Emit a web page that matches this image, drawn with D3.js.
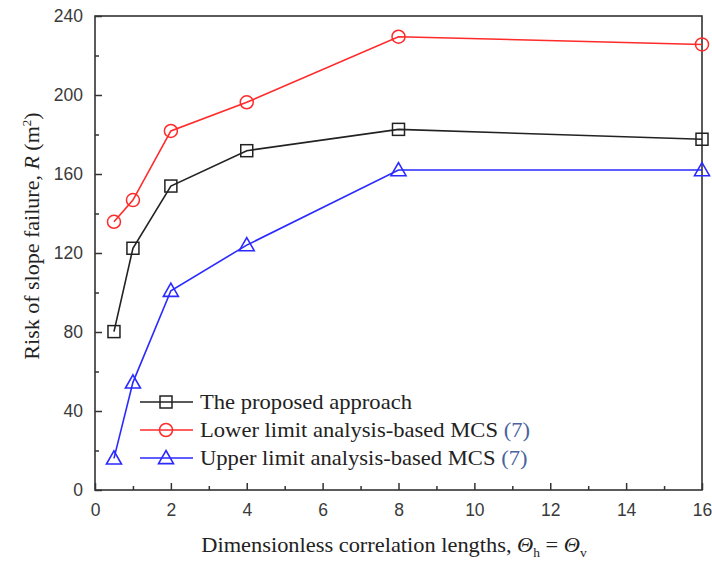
<!DOCTYPE html>
<html><head><meta charset="utf-8">
<script src="https://cdn.jsdelivr.net/npm/d3@7"></script>
<style>body{margin:0;background:#fff}</style>
</head><body>
<svg id="c" width="712" height="563"></svg>
<script>
const xValues = [0.5, 1, 2, 4, 8, 16];
const proposed = [80.2, 122.4, 153.9, 171.8, 182.6, 177.6];
const lowerMCS = [135.8, 146.8, 181.8, 196.3, 229.5, 225.6];
const upperMCS = [16.0, 54.5, 100.9, 124.0, 162.0, 162.0];
const xTicks = [0, 2, 4, 6, 8, 10, 12, 14, 16];
const yTicks = [0, 40, 80, 120, 160, 200, 240];
const seriesNames = ["The proposed approach", "Lower limit analysis-based MCS", "Upper limit analysis-based MCS"];

const svg = d3.select("#c");
const L = 95, R = 702, T = 16, B = 490;
const x = d3.scaleLinear().domain([0, 16]).range([L, R]);
const y = d3.scaleLinear().domain([0, 240]).range([B, T]);
const axisCol = "#333";
const serif = "'Liberation Serif', 'Times New Roman', serif";

// frame
svg.append("rect").attr("x", L).attr("y", T).attr("width", R - L).attr("height", B - T)
  .attr("fill", "none").attr("stroke", axisCol).attr("stroke-width", 1.6);

// axes with inward ticks
const xAxis = svg.append("g").attr("transform", `translate(0,${B})`)
  .call(d3.axisBottom(x).tickValues(xTicks).tickSize(-7).tickPadding(14).tickFormat(d3.format("d")));
const xMinor = svg.append("g").attr("transform", `translate(0,${B})`)
  .call(d3.axisBottom(x).tickValues(d3.range(1, 16, 2)).tickSize(-4).tickFormat(""));
const yAxis = svg.append("g").attr("transform", `translate(${L},0)`)
  .call(d3.axisLeft(y).tickValues(yTicks).tickSize(-7).tickPadding(12).tickFormat(d3.format("d")));
const yMinor = svg.append("g").attr("transform", `translate(${L},0)`)
  .call(d3.axisLeft(y).tickValues(d3.range(20, 240, 40)).tickSize(-4).tickFormat(""));
[xAxis, xMinor, yAxis, yMinor].forEach(g => {
  g.select(".domain").remove();
  g.selectAll("line").attr("stroke", axisCol).attr("stroke-width", 1.5);
  g.selectAll("text").attr("font-family", "'Liberation Sans', Arial, sans-serif")
    .attr("font-size", 17.5).attr("fill", "#3a3a3a");
});

const series = [
  {name: seriesNames[0], vals: proposed, color: "#222", marker: "square"},
  {name: seriesNames[1], vals: lowerMCS, color: "#ff2a2a", marker: "circle"},
  {name: seriesNames[2], vals: upperMCS, color: "#2a2aff", marker: "triangle"}
];

function drawMarker(g, type, cx, cy, color) {
  if (type === "square") {
    g.append("rect").attr("x", cx - 6).attr("y", cy - 6).attr("width", 12).attr("height", 12)
      .attr("fill", "none").attr("stroke", color).attr("stroke-width", 1.5);
  } else if (type === "circle") {
    g.append("circle").attr("cx", cx).attr("cy", cy).attr("r", 6.5)
      .attr("fill", "none").attr("stroke", color).attr("stroke-width", 1.5);
  } else {
    const s = 7.5;
    g.append("path").attr("d", `M${cx},${cy - s}L${cx + s},${cy + s * 0.75}L${cx - s},${cy + s * 0.75}Z`)
      .attr("fill", "none").attr("stroke", color).attr("stroke-width", 1.6);
  }
}

const line = d3.line().x(d => x(d[0])).y(d => y(d[1]));
series.forEach(s => {
  const pts = xValues.map((v, i) => [v, s.vals[i]]);
  svg.append("path").datum(pts).attr("d", line).attr("fill", "none")
    .attr("stroke", s.color).attr("stroke-width", 1.6);
  const g = svg.append("g");
  pts.forEach(p => drawMarker(g, s.marker, x(p[0]), y(p[1]), s.color));
});

// legend
const legY = [402, 430, 458];
series.forEach((s, i) => {
  const g = svg.append("g");
  g.append("line").attr("x1", 140).attr("x2", 193).attr("y1", legY[i]).attr("y2", legY[i])
    .attr("stroke", s.color).attr("stroke-width", 1.6);
  drawMarker(g, s.marker, 166, legY[i], s.color);
  const t = g.append("text").attr("transform", `translate(200,${legY[i] + 7}) scale(1.13,1)`)
    .attr("font-family", serif).attr("font-size", 20).attr("fill", "#222");
  t.append("tspan").text(s.name);
  if (i > 0) t.append("tspan").attr("fill", "#4a62a0").text(" (7)");
});

// axis titles
const xt = svg.append("text").attr("transform", "translate(394,552) scale(1.12,1)").attr("text-anchor", "middle")
  .attr("font-family", serif).attr("font-size", 20).attr("fill", "#222");
xt.append("tspan").text("Dimensionless correlation lengths, ");
xt.append("tspan").attr("font-style", "italic").text("Θ");
xt.append("tspan").attr("font-size", 12).attr("dy", 5).text("h");
xt.append("tspan").attr("dy", -5).text(" = ");
xt.append("tspan").attr("font-style", "italic").text("Θ");
xt.append("tspan").attr("font-size", 12).attr("dy", 5).text("v");

const yt = svg.append("text").attr("transform", "translate(39,236) rotate(-90)").attr("text-anchor", "middle")
  .attr("font-family", serif).attr("font-size", 22).attr("fill", "#222");
yt.append("tspan").text("Risk of slope failure, ");
yt.append("tspan").attr("font-style", "italic").text("R");
yt.append("tspan").text(" (m");
yt.append("tspan").attr("font-size", 13).attr("dy", -8).text("2");
yt.append("tspan").attr("dy", 8).text(")");
</script>
</body></html>
